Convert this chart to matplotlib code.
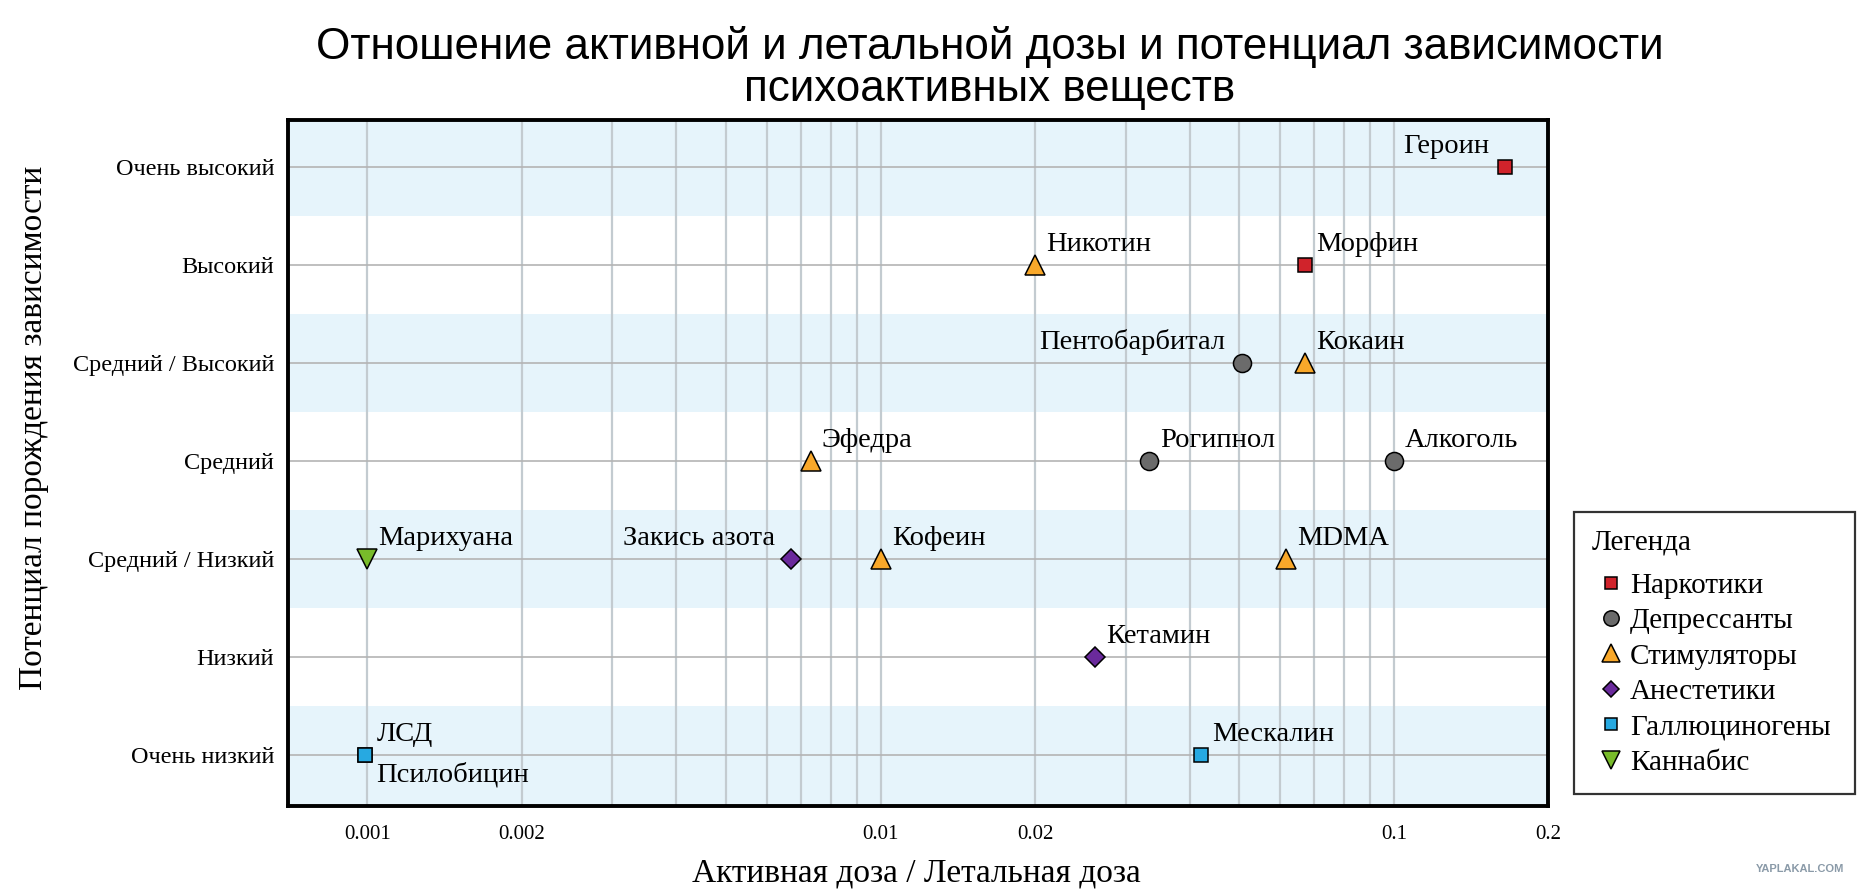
import numpy as np
import matplotlib
matplotlib.use("Agg")
import matplotlib.pyplot as plt
from matplotlib.lines import Line2D

# Уровни зависимости (снизу вверх)
levels_names = ["Очень низкий", "Низкий", "Средний / Низкий", "Средний",
                "Средний / Высокий", "Высокий", "Очень высокий"]

# Вещества
names = ["Героин", "Морфин", "Никотин", "Пентобарбитал", "Кокаин",
         "Эфедра", "Рогипнол", "Алкоголь", "Марихуана", "Закись азота",
         "Кофеин", "MDMA", "Кетамин", "ЛСД", "Псилобицин", "Мескалин"]
ratio = [0.165, 0.067, 0.020, 0.0506, 0.067,
         0.0073, 0.0334, 0.100, 0.0010, 0.0067,
         0.0100, 0.0617, 0.0262, 0.00099, 0.00099, 0.042]
level = [6, 5, 5, 4, 4,
         3, 3, 3, 2, 2,
         2, 2, 1, 0, 0, 0]
group = ["Наркотики", "Наркотики", "Стимуляторы", "Депрессанты", "Стимуляторы",
         "Стимуляторы", "Депрессанты", "Депрессанты", "Каннабис", "Анестетики",
         "Стимуляторы", "Стимуляторы", "Анестетики", "Галлюциногены", "Галлюциногены",
         "Галлюциногены"]

groups = ["Наркотики", "Депрессанты", "Стимуляторы", "Анестетики",
          "Галлюциногены", "Каннабис"]

x_ticks = [0.001, 0.002, 0.01, 0.02, 0.1, 0.2]
x_tick_labels = ["0.001", "0.002", "0.01", "0.02", "0.1", "0.2"]

# стиль маркеров для групп
style = {
    "Наркотики":     dict(marker="s", color="#d0232b", ms=10),
    "Депрессанты":   dict(marker="o", color="#6b6b6b", ms=13),
    "Стимуляторы":   dict(marker="^", color="#f9a82a", ms=15),
    "Анестетики":    dict(marker="D", color="#6a2a9c", ms=10),
    "Галлюциногены": dict(marker="s", color="#27a9e1", ms=10),
    "Каннабис":      dict(marker="v", color="#78bb2a", ms=15),
}

# куда ставить подпись
label_pos = {"Героин": "left", "Пентобарбитал": "left",
             "Закись азота": "left", "Псилобицин": "below"}

serif = ["Liberation Serif", "DejaVu Serif"]

fig = plt.figure(figsize=(18.75, 8.96), dpi=100)
ax = fig.add_axes([0.1536, 0.1004, 0.6722, 0.7657])

ax.set_xscale("log")
ax.set_xlim(0.0007, 0.2)
ax.set_ylim(-0.52, 6.48)

# полосы
for r in range(0, 7, 2):
    ax.axhspan(r - 0.5, r + 0.5, color="#e6f4fb", lw=0, zorder=0)

# сетка
minor = [m * 10.0 ** e for e in (-3, -2, -1) for m in range(1, 10)]
minor = [v for v in minor if v <= 0.2 + 1e-9]
for v in minor:
    ax.axvline(v, color="#c3cbd0", lw=1.6, zorder=1)
for r in range(7):
    ax.axhline(r, color="#b4b4b4", lw=1.2, zorder=1)

ax.set_xticks(x_ticks)
ax.set_xticklabels(x_tick_labels, family=serif, fontsize=15)
ax.xaxis.set_minor_locator(matplotlib.ticker.NullLocator())
ax.set_yticks(range(7))
ax.set_yticklabels(levels_names, family=serif, fontsize=17.5)
ax.tick_params(length=0)
ax.tick_params(axis="x", pad=14)
ax.tick_params(axis="y", pad=10)

for s in ax.spines.values():
    s.set_linewidth(2.8)
    s.set_color("black")
    s.set_zorder(5)

# точки
for n, x, y, g in zip(names, ratio, level, group):
    st = style[g]
    ax.plot(x, y, linestyle="none", marker=st["marker"], ms=st["ms"],
            mfc=st["color"], mec="black", mew=1.1, zorder=4, clip_on=False)
    pos = label_pos.get(n, "right")
    if pos == "left":
        off, ha, va = (-12, 10), "right", "baseline"
    elif pos == "below":
        off, ha, va = (8, -5), "left", "top"
    else:
        off, ha, va = (8, 10), "left", "baseline"
    ax.annotate(n, (x, y), xytext=off, textcoords="offset points",
                ha=ha, va=va, family=serif, fontsize=20.5, zorder=6)

# легенда
handles = [Line2D([], [], linestyle="none", marker=style[g]["marker"],
                  ms=style[g]["ms"] * 0.85, mfc=style[g]["color"], mec="black",
                  mew=1.1) for g in groups]
leg = fig.legend(handles, groups, loc="upper left",
                 bbox_to_anchor=(0.8395, 0.1105, 0.150, 0.3185),
                 mode="expand", title="Легенда", alignment="left",
                 prop={"family": serif, "size": 21},
                 title_fontproperties={"family": serif, "size": 21},
                 frameon=True, fancybox=False, borderpad=0.62,
                 labelspacing=0.31, handletextpad=0.0, handlelength=1.3,
                 borderaxespad=0)
leg._legend_box.sep = 12
leg.get_frame().set_edgecolor("black")
leg.get_frame().set_linewidth(1.6)

# заголовок и подписи осей
fig.text(0.528, 0.924, "Отношение активной и летальной дозы и потенциал зависимости\n"
         "психоактивных веществ", ha="center", va="center",
         family=["Liberation Sans", "DejaVu Sans"], fontsize=31.7, linespacing=1.03)
fig.text(0.489, 0.025, "Активная доза / Летальная доза", ha="center", va="center",
         family=serif, fontsize=24)
fig.text(0.018, 0.522, "Потенциал порождения зависимости", ha="center", va="center",
         rotation=90, family=serif, fontsize=24)
fig.text(0.96, 0.03, "YAPLAKAL.COM", ha="center", va="center",
         family=["Liberation Sans", "DejaVu Sans"], fontsize=8, weight="bold",
         color="#8a9aa8")

fig.savefig("out.png", dpi=100)
